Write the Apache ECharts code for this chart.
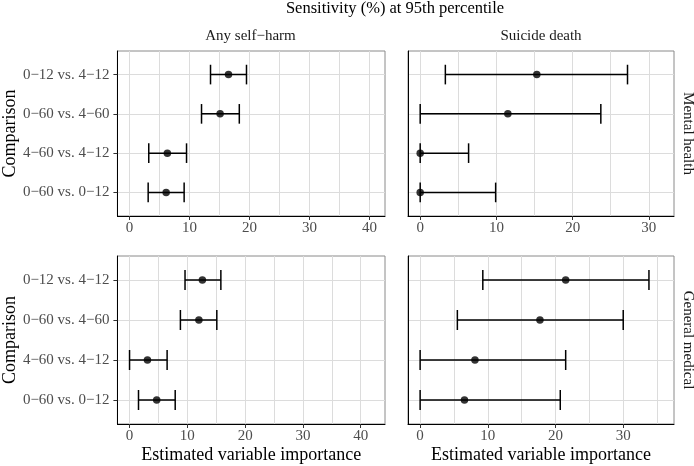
<!DOCTYPE html>
<html>
<head>
<meta charset="utf-8">
<script src="https://cdn.jsdelivr.net/npm/echarts@6/dist/echarts.min.js"></script>
<style>
html,body{margin:0;padding:0;background:#fff;}
#chart{width:694px;height:466px;}
</style>
</head>
<body>
<div id="chart"></div>
<script>
// ---------------- DATA ----------------
const mainTitle = 'Sensitivity (%) at 95th percentile';
const categories = ['0\u221212 vs. 4\u221212', '0\u221260 vs. 4\u221260', '4\u221260 vs. 4\u221212', '0\u221260 vs. 0\u221212'];
const outcomes = ['Any self\u2212harm', 'Suicide death'];
const groups = ['Mental health', 'General medical'];
const xAxisTitle = 'Estimated variable importance';
const yAxisTitle = 'Comparison';

// Mental health / Any self-harm
const mhSelfHarmEst = [16.5, 15.1, 6.3, 6.1];
const mhSelfHarmLo  = [13.5, 12.0, 3.2, 3.1];
const mhSelfHarmHi  = [19.5, 18.3, 9.5, 9.1];
// Mental health / Suicide death
const mhSuicideEst = [15.3, 11.5, 0.0, 0.0];
const mhSuicideLo  = [3.3, 0.0, 0.0, 0.0];
const mhSuicideHi  = [27.2, 23.7, 6.35, 9.9];
// General medical / Any self-harm
const gmSelfHarmEst = [12.6, 12.0, 3.1, 4.7];
const gmSelfHarmLo  = [9.6, 8.8, 0.0, 1.55];
const gmSelfHarmHi  = [15.8, 15.1, 6.5, 7.9];
// General medical / Suicide death
const gmSuicideEst = [21.5, 17.7, 8.1, 6.55];
const gmSuicideLo  = [9.26, 5.5, 0.0, 0.0];
const gmSuicideHi  = [33.8, 30.0, 21.5, 20.7];

// tick labels
const xTicksSelfHarm = [0, 10, 20, 30, 40];
const xTicksSuicide = [0, 10, 20, 30];
const xMinorTicks = [5, 15, 25, 35];

// ---------------- LAYOUT / STYLE ----------------
const FONT = '"Liberation Serif", "DejaVu Serif", serif';
const panelDefs = [
  {est: mhSelfHarmEst, lo: mhSelfHarmLo, hi: mhSelfHarmHi, ticks: xTicksSelfHarm, min: -2.03, max: 42.6, left: 116, top: 51, width: 269, height: 165, col: 0, row: 0},
  {est: mhSuicideEst, lo: mhSuicideLo, hi: mhSuicideHi, ticks: xTicksSuicide, min: -1.6, max: 33.3, left: 408, top: 51, width: 266, height: 165, col: 1, row: 0},
  {est: gmSelfHarmEst, lo: gmSelfHarmLo, hi: gmSelfHarmHi, ticks: xTicksSelfHarm, min: -2.1, max: 44.2, left: 116, top: 256, width: 269, height: 168, col: 0, row: 1},
  {est: gmSuicideEst, lo: gmSuicideLo, hi: gmSuicideHi, ticks: xTicksSuicide, min: -1.79, max: 37.5, left: 408, top: 256, width: 266, height: 168, col: 1, row: 1}
];

const catPositions = categories.map((c, i) => i + 1);
const gridColor = '#dcdcdc';

const grids = [], xAxes = [], yAxes = [], series = [];

panelDefs.forEach((p, k) => {
  grids.push({left: p.left, top: p.top, width: p.width, height: p.height, show: true,
    borderColor: '#8a8a8a', borderWidth: 1, backgroundColor: '#fff', containLabel: false});
  const isBottom = p.row === 1;
  const isLeft = p.col === 0;
  // major axis
  xAxes.push({
    type: 'value', gridIndex: k, min: p.min, max: p.max, position: 'bottom',
    axisLine: {show: true, onZero: false, lineStyle: {color: '#000', width: 1}},
    axisTick: {show: true, length: 4, customValues: p.ticks, lineStyle: {color: '#333', width: 1}},
    axisLabel: {show: true, customValues: p.ticks, margin: 5, color: '#4d4d4d', fontFamily: FONT, fontSize: 15},
    splitLine: {show: true, lineStyle: {color: gridColor, width: 1}},
    name: isBottom ? xAxisTitle : '', nameLocation: 'middle', nameGap: 22,
    nameTextStyle: {fontFamily: FONT, fontSize: 18, color: '#000'}
  });
  // minor grid axis
  const minor = xMinorTicks.filter(v => v > p.min && v < p.max);
  xAxes.push({
    type: 'value', gridIndex: k, min: p.min, max: p.max, position: 'bottom',
    axisLine: {show: false, onZero: false}, axisTick: {show: false, customValues: minor},
    axisLabel: {show: false, customValues: minor},
    splitLine: {show: true, lineStyle: {color: gridColor, width: 1}}
  });
  yAxes.push({
    type: 'value', gridIndex: k, inverse: true, min: 0.4, max: 4.6,
    axisLine: {show: true, onZero: false, lineStyle: {color: '#000', width: 1}},
    axisTick: {show: isLeft, length: 4, customValues: catPositions, lineStyle: {color: '#333', width: 1}},
    axisLabel: {show: isLeft, customValues: catPositions, margin: 8, color: '#4d4d4d', fontFamily: FONT, fontSize: 15,
      formatter: v => categories[Math.round(v) - 1] || ''},
    splitLine: {show: true, lineStyle: {color: gridColor, width: 1}},
    name: isLeft ? yAxisTitle : '', nameLocation: 'middle', nameGap: 95, nameRotate: 90,
    nameTextStyle: {fontFamily: FONT, fontSize: 18, color: '#000'}
  });

  const barData = categories.map((c, i) => [p.lo[i], p.hi[i], i + 1]);
  const ptData = categories.map((c, i) => [p.est[i], i + 1]);
  series.push({
    type: 'custom', xAxisIndex: 2 * k, yAxisIndex: k, data: barData, clip: false, z: 3,
    encode: {x: [0, 1], y: 2},
    renderItem: (params, api) => {
      const lo = api.value(0), hi = api.value(1), y = api.value(2);
      const a = api.coord([lo, y]), b = api.coord([hi, y]);
      const a1 = api.coord([lo, y - 0.25]), a2 = api.coord([lo, y + 0.25]);
      const b1 = api.coord([hi, y - 0.25]), b2 = api.coord([hi, y + 0.25]);
      const st = {stroke: '#000', lineWidth: 1.5};
      return {type: 'group', children: [
        {type: 'line', shape: {x1: a[0], y1: a[1], x2: b[0], y2: b[1]}, style: st},
        {type: 'line', shape: {x1: a1[0], y1: a1[1], x2: a2[0], y2: a2[1]}, style: st},
        {type: 'line', shape: {x1: b1[0], y1: b1[1], x2: b2[0], y2: b2[1]}, style: st}
      ]};
    }
  });
  series.push({
    type: 'scatter', xAxisIndex: 2 * k, yAxisIndex: k, data: ptData, symbol: 'circle', symbolSize: 7.5,
    itemStyle: {color: '#000'}, z: 4, clip: false, silent: true
  });
});

const graphics = [
  {type: 'text', x: 395, y: 9, style: {text: mainTitle, font: '16.5px ' + FONT, fill: '#000', align: 'center', verticalAlign: 'middle', textAlign: 'center', textVerticalAlign: 'middle'}}
];
outcomes.forEach((t, c) => {
  const p = panelDefs[c];
  graphics.push({type: 'text', x: p.left + p.width / 2, y: 36, style: {text: t, font: '15px ' + FONT, fill: '#1a1a1a', align: 'center', verticalAlign: 'middle', textAlign: 'center', textVerticalAlign: 'middle'}});
});
groups.forEach((t, r) => {
  const p = panelDefs[r * 2 + 1];
  graphics.push({type: 'text', x: 688, y: p.top + p.height / 2, rotation: -Math.PI / 2, style: {text: t, font: '15px ' + FONT, fill: '#1a1a1a', align: 'center', verticalAlign: 'middle', textAlign: 'center', textVerticalAlign: 'middle'}});
});

const chart = echarts.init(document.getElementById('chart'), null, {renderer: 'canvas'});
chart.setOption({
  animation: false,
  backgroundColor: '#fff',
  grid: grids,
  xAxis: xAxes,
  yAxis: yAxes,
  series: series,
  graphic: graphics
});
</script>
</body>
</html>
